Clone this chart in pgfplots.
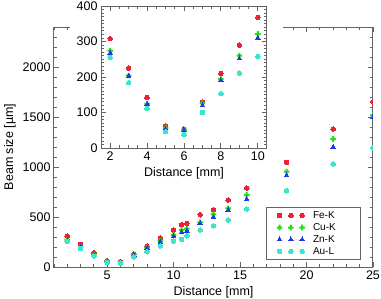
\documentclass[border=0pt]{standalone}
\usepackage{fontspec}
\setmainfont{Liberation Sans}
\usepackage{pgfplots}
\pgfplotsset{compat=1.18}
\definecolor{cFe}{RGB}{240,30,55}
\definecolor{cCu}{RGB}{30,225,20}
\definecolor{cZn}{RGB}{30,60,230}
\definecolor{cAu}{RGB}{60,230,205}
\definecolor{axgray}{RGB}{100,100,100}

\pgfdeclareplotmark{fatplus}{%
  \pgfpathmoveto{\pgfqpoint{-0.36\pgfplotmarksize}{\pgfplotmarksize}}%
  \pgfpathlineto{\pgfqpoint{0.36\pgfplotmarksize}{\pgfplotmarksize}}%
  \pgfpathlineto{\pgfqpoint{0.36\pgfplotmarksize}{0.36\pgfplotmarksize}}%
  \pgfpathlineto{\pgfqpoint{\pgfplotmarksize}{0.36\pgfplotmarksize}}%
  \pgfpathlineto{\pgfqpoint{\pgfplotmarksize}{-0.36\pgfplotmarksize}}%
  \pgfpathlineto{\pgfqpoint{0.36\pgfplotmarksize}{-0.36\pgfplotmarksize}}%
  \pgfpathlineto{\pgfqpoint{0.36\pgfplotmarksize}{-\pgfplotmarksize}}%
  \pgfpathlineto{\pgfqpoint{-0.36\pgfplotmarksize}{-\pgfplotmarksize}}%
  \pgfpathlineto{\pgfqpoint{-0.36\pgfplotmarksize}{-0.36\pgfplotmarksize}}%
  \pgfpathlineto{\pgfqpoint{-\pgfplotmarksize}{-0.36\pgfplotmarksize}}%
  \pgfpathlineto{\pgfqpoint{-\pgfplotmarksize}{0.36\pgfplotmarksize}}%
  \pgfpathlineto{\pgfqpoint{-0.36\pgfplotmarksize}{0.36\pgfplotmarksize}}%
  \pgfpathclose
  \pgfusepathqfill
}

\pgfplotstableread{
x Fe Cu Zn Au
2 308 274 268 255
3 225 204 203 184
4 142 124 124 111
5 62 57 54 46
6 53 52 50 38
7 129 126 120 100
8 210 194 190 153
9 290 260 252 211
10 368 321 310 258
}\insetdata

\pgfplotstableread{
x Fe Cu Zn Au
2 308 274 268 255
3 225 204 203 184
4 142 124 124 111
5 62 57 54 46
6 53 52 50 38
7 129 126 120 100
8 210 194 190 153
9 290 260 252 211
10 368 321 310 258
10.6 423 370 350 277
11 437 383 363 313
12 523 447 437 370
13 573 527 500 413
14.1 670 587 570 470
15.5 790 720 677 580
18.5 1047 953 917 763
22 1380 1280 1200 1030
25 1653 1517 1500 1193
}\maindata

\pgfplotsset{
  mystyle/.style={
    scale only axis,
    axis line style={draw=axgray, line width=1pt},
    tick style={draw=axgray, line width=0.8pt},
    tick align=inside,
    major tick length=5pt, minor tick length=3pt,
    /pgf/number format/assume math mode=true,
    /pgf/number format/1000 sep={},
    tick label style={font=\fontsize{12.5}{14}\selectfont},
    label style={font=\fontsize{12.5}{14}\selectfont},
    clip marker paths=true,
  },
  sFe/.style={draw=none, mark=*, mark size=2.3pt, color=cFe, mark options={draw=cFe, fill=cFe, line width=0pt}},
  sCu/.style={draw=none, mark=fatplus, mark size=2.8pt, color=cCu, mark options={draw=cCu, fill=cCu, line width=0pt}},
  sZn/.style={draw=none, mark=triangle*, mark size=2.6pt, color=cZn, mark options={draw=cZn, fill=cZn, line width=0pt}},
  sAu/.style={draw=none, mark=*, mark size=2.3pt, color=cAu, mark options={draw=cAu, fill=cAu, line width=0pt}},
}

\begin{document}
\begin{tikzpicture}[font=\fontsize{12.5}{14}\selectfont]
\useasboundingbox (0,0) rectangle (381pt,298pt);
\begin{axis}[mystyle,
  at={(54pt,31pt)}, anchor=south west,
  width=319pt, height=240pt,
  xmin=1, xmax=25, ymin=0, ymax=2400,
  xtick={0,5,...,25}, minor x tick num=4,
  ytick={0,500,...,2500}, minor y tick num=4,
  xlabel={Distance [mm]}, ylabel={Beam size [µm]},
  legend image code/.code={\draw[#1, draw=none, mark repeat=1, mark phase=1] plot coordinates {(0pt,0pt) (11.3pt,0pt) (22.6pt,0pt)};},
  legend style={at={(0.9624,0.029)}, anchor=south east, draw=axgray, line width=1pt,
    font=\fontsize{10}{12}\selectfont, row sep=-0.5pt, inner xsep=10.5pt, inner ysep=2pt},
  legend cell align=left,
]
\addplot[sFe] table[x=x, y=Fe] {\maindata};
\addlegendentry{\hspace{6pt}\makebox[35pt][l]{Fe-K}}
\addplot[sCu] table[x=x, y=Cu] {\maindata};
\addlegendentry{\hspace{6pt}\makebox[35pt][l]{Cu-K}}
\addplot[sZn] table[x=x, y=Zn] {\maindata};
\addlegendentry{\hspace{6pt}\makebox[35pt][l]{Zn-K}}
\addplot[sAu] table[x=x, y=Au] {\maindata};
\addlegendentry{\hspace{6pt}\makebox[35pt][l]{Au-L}}
\end{axis}
\fill[white] (70pt,117pt) rectangle (283pt,298pt);
\begin{axis}[mystyle,
  at={(101pt,150pt)}, anchor=south west,
  width=166pt, height=142pt,
  xmin=1.5, xmax=10.5, ymin=0, ymax=400,
  xtick={2,4,...,10}, minor x tick num=3,
  ytick={0,100,...,400}, minor y tick num=9,
  xlabel={Distance [mm]},
]
\addplot[sFe] table[x=x, y=Fe] {\insetdata};
\addplot[sCu] table[x=x, y=Cu] {\insetdata};
\addplot[sZn] table[x=x, y=Zn] {\insetdata};
\addplot[sAu] table[x=x, y=Au] {\insetdata};
\end{axis}
\end{tikzpicture}
\end{document}
